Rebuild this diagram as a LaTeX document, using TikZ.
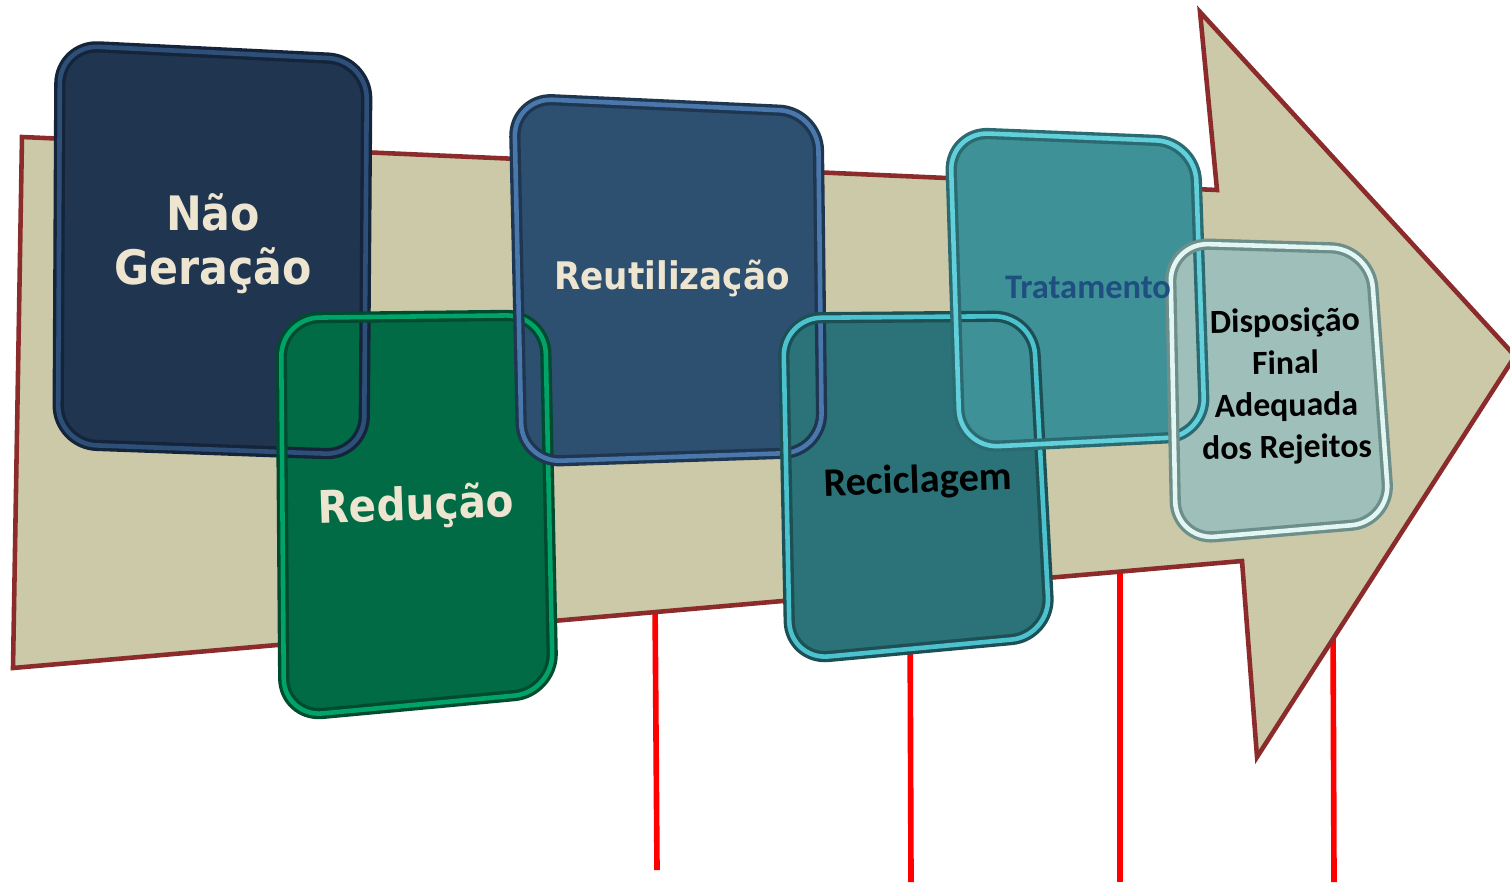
\documentclass[tikz,border=0pt]{standalone}
\usepackage{fontspec}
\setmainfont{Carlito}
\newfontfamily\wordfont[FakeStretch=0.9]{DejaVu Sans}

\definecolor{arrowfill}{HTML}{CCC9A8}
\definecolor{arrowline}{HTML}{8B2B2B}
\definecolor{cream}{HTML}{EDE5D0}
\definecolor{ngfill}{HTML}{1F3550}\definecolor{nglight}{HTML}{2E5078}\definecolor{ngdark}{HTML}{14243A}
\definecolor{rdfill}{HTML}{006B45}\definecolor{rdlight}{HTML}{00A468}\definecolor{rddark}{HTML}{004A30}
\definecolor{rufill}{HTML}{2E5070}\definecolor{rulight}{HTML}{4A78AC}\definecolor{rudark}{HTML}{1E3650}
\definecolor{rcfill}{HTML}{2B7378}\definecolor{rclight}{HTML}{4CC2CE}\definecolor{rcdark}{HTML}{1C5055}
\definecolor{trfill}{HTML}{3F9198}\definecolor{trlight}{HTML}{62D0DA}\definecolor{trdark}{HTML}{2A6A70}
\definecolor{dpfill}{HTML}{9FC0BA}\definecolor{dplight}{HTML}{E2F6F3}\definecolor{dpdark}{HTML}{6E8E8A}
\definecolor{trtext}{HTML}{1F4E80}

\tikzset{
  arrowbody/.style={fill=arrowfill, draw=arrowline, line width=1.3pt, line join=miter},
  marker/.style={draw=red, line width=1.6pt},
  cardedge/.style={rounded corners=11pt, draw=#1dark, line width=3.2pt},
  cardshine/.style={rounded corners=11pt, draw=#1light, line width=1.3pt},
  cardfill/.style={rounded corners=11pt, fill=#1fill},
  capword/.style={font=\wordfont\bfseries, text=cream, align=center},
  darkword/.style={font=\bfseries, align=center}
}

\begin{document}
\begin{tikzpicture}[x=0.01cm, y=-0.01cm]
\useasboundingbox (0,0) rectangle (1510,882);

% red markers below the arrow
\coordinate (m1top) at (655,600); \coordinate (m1end) at (657,870);
\coordinate (m2top) at (910,600); \coordinate (m2end) at (911,882);
\coordinate (m3top) at (1120,560); \coordinate (m3end) at (1120,882);
\coordinate (m4top) at (1333,620); \coordinate (m4end) at (1334,882);
\foreach \m in {m1,m2,m3,m4}
  \draw[marker] (\m top) -- (\m end);

% the big arrow
\filldraw[arrowbody] (22,137) -- (1217,190) -- (1200,12) -- (1515,356)
  -- (1257,757) -- (1242,561) -- (13,668) -- cycle;

% card corners
\coordinate (ng1) at (60,45);   \coordinate (ng2) at (367,60);
\coordinate (ng3) at (364,455); \coordinate (ng4) at (58,444);
\coordinate (rd1) at (281,318); \coordinate (rd2) at (545,315);
\coordinate (rd3) at (553,692); \coordinate (rd4) at (284,717);
\coordinate (ru1) at (514,98);  \coordinate (ru2) at (818,112);
\coordinate (ru3) at (822,452); \coordinate (ru4) at (522,462);
\coordinate (rc1) at (783,318); \coordinate (rc2) at (1033,316);
\coordinate (rc3) at (1050,636); \coordinate (rc4) at (790,660);
\coordinate (tr1) at (950,132); \coordinate (tr2) at (1195,142);
\coordinate (tr3) at (1205,436); \coordinate (tr4) at (960,448);
\coordinate (dp1) at (1170,243); \coordinate (dp2) at (1370,249);
\coordinate (dp3) at (1390,522); \coordinate (dp4) at (1176,540);

\foreach \c in {ng,rd,ru,rc,tr,dp}
  \fill[cardfill=\c] (\c1) -- (\c2) -- (\c3) -- (\c4) -- cycle;
\foreach \c in {ng,rd,ru,rc,tr,dp} {
  \draw[cardedge=\c] (\c1) -- (\c2) -- (\c3) -- (\c4) -- cycle;
  \draw[cardshine=\c] (\c1) -- (\c2) -- (\c3) -- (\c4) -- cycle;
}

% labels
\node[capword, font=\wordfont\bfseries\fontsize{13.5}{15.4}\selectfont] (naoger) at (213,244) {Não\\Geração};
\node[capword, font=\wordfont\bfseries\fontsize{12.8}{15}\selectfont, rotate=2] (reduc) at (416,507) {Redução};
\node[capword, font=\wordfont\bfseries\fontsize{10.8}{13}\selectfont] (reutil) at (672,278) {Reutilização};
\node[darkword, font=\bfseries\fontsize{11.5}{13}\selectfont, rotate=2] (recicl) at (918,482) {Reciclagem};
\node[darkword, text=trtext, font=\bfseries\fontsize{9.8}{12}\selectfont] (tratam) at (1088,287) {Tratamento};
\node[darkword, font=\bfseries\fontsize{9.6}{12}\selectfont, rotate=1] (dispos) at (1286,386) {Disposição\\Final\\Adequada\\dos Rejeitos};
\end{tikzpicture}
\end{document}
